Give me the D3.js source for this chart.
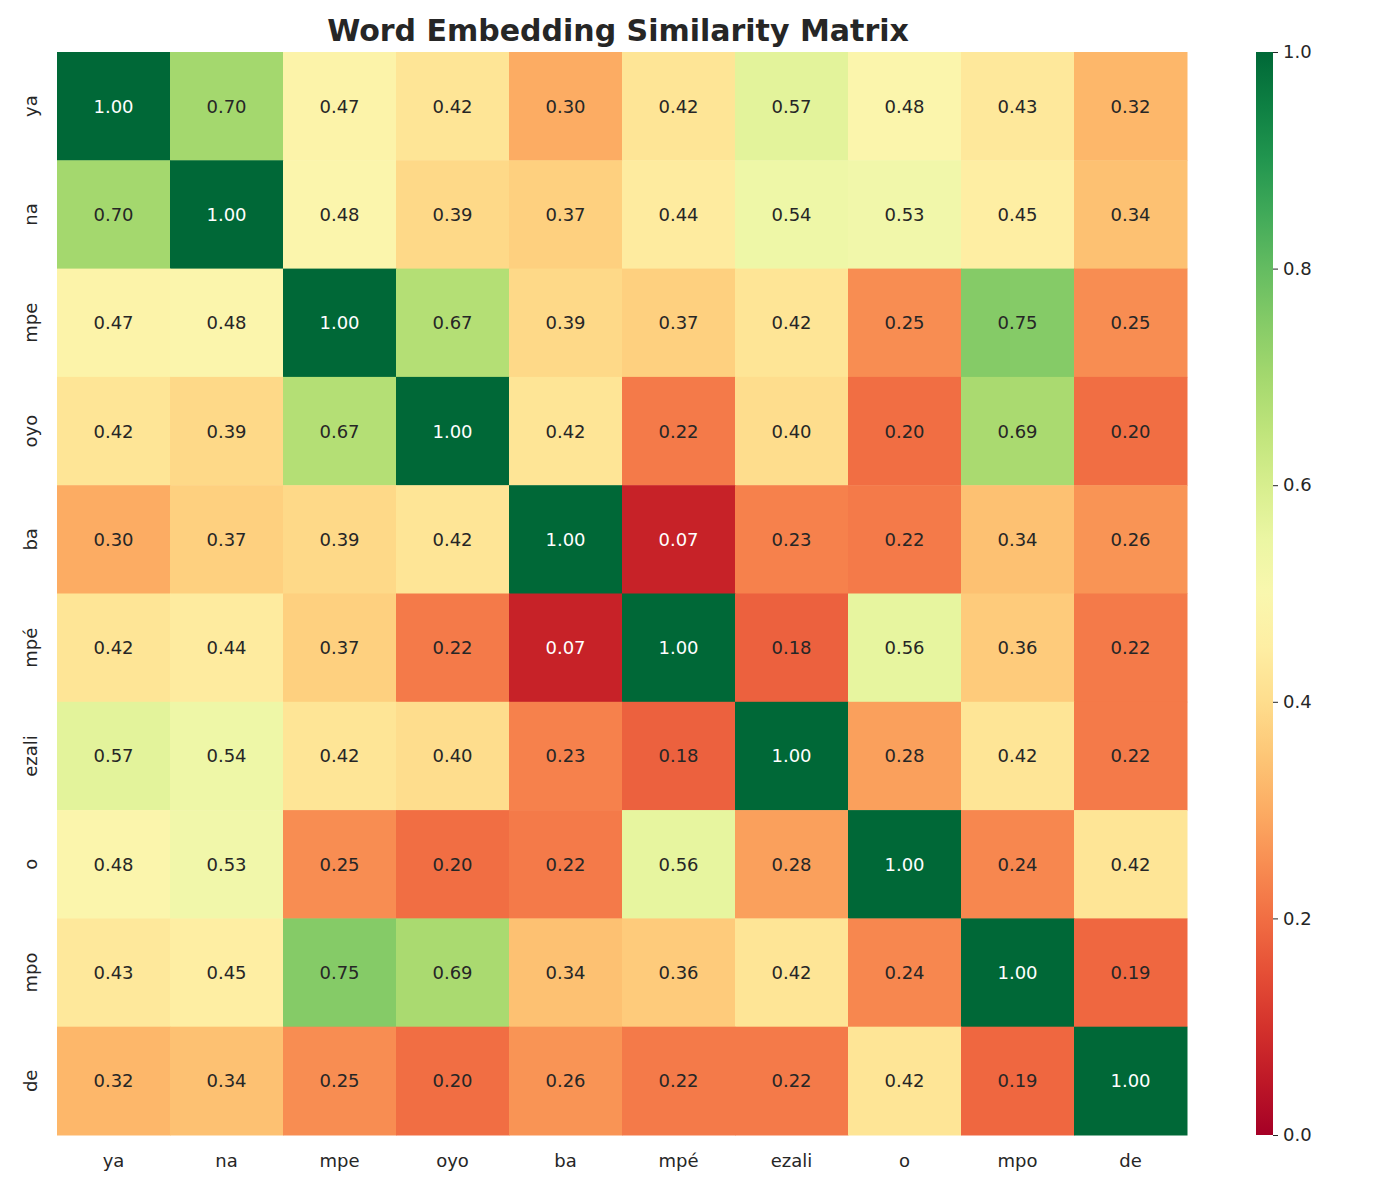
<!DOCTYPE html>
<html><head><meta charset="utf-8">
<script src="https://cdn.jsdelivr.net/npm/d3@7"></script>
<style>body{margin:0;background:#fff;font-family:"DejaVu Sans",sans-serif}</style>
</head><body><svg id="c" width="1373" height="1186"></svg>
<script>
const words = ["ya","na","mpe","oyo","ba","mpé","ezali","o","mpo","de"];
const matrix = [
[1.00,0.70,0.47,0.42,0.30,0.42,0.57,0.48,0.43,0.32],
[0.70,1.00,0.48,0.39,0.37,0.44,0.54,0.53,0.45,0.34],
[0.47,0.48,1.00,0.67,0.39,0.37,0.42,0.25,0.75,0.25],
[0.42,0.39,0.67,1.00,0.42,0.22,0.40,0.20,0.69,0.20],
[0.30,0.37,0.39,0.42,1.00,0.07,0.23,0.22,0.34,0.26],
[0.42,0.44,0.37,0.22,0.07,1.00,0.18,0.56,0.36,0.22],
[0.57,0.54,0.42,0.40,0.23,0.18,1.00,0.28,0.42,0.22],
[0.48,0.53,0.25,0.20,0.22,0.56,0.28,1.00,0.24,0.42],
[0.43,0.45,0.75,0.69,0.34,0.36,0.42,0.24,1.00,0.19],
[0.32,0.34,0.25,0.20,0.26,0.22,0.22,0.42,0.19,1.00]];
const cbTicks = [0,0.2,0.4,0.6,0.8,1.0];
const title = "Word Embedding Similarity Matrix";

const svg = d3.select("#c");
const L=57,R=1187,T=52,B=1135;
const x = d3.scaleBand().domain(words).range([L,R]);
const y = d3.scaleBand().domain(words).range([T,B]);
const color = v => d3.interpolateRdYlGn(v);
const cells=[];
matrix.forEach((row,i)=>row.forEach((v,j)=>cells.push({r:words[i],c:words[j],v})));
svg.selectAll("rect.cell").data(cells).join("rect")
 .attr("x",d=>x(d.c)).attr("y",d=>y(d.r)).attr("width",x.bandwidth()+0.5).attr("height",y.bandwidth()+0.5)
 .attr("fill",d=>color(d.v));
svg.selectAll("text.val").data(cells).join("text")
 .attr("x",d=>x(d.c)+x.bandwidth()/2).attr("y",d=>y(d.r)+y.bandwidth()/2)
 .attr("text-anchor","middle").attr("dominant-baseline","central")
 .attr("font-size",18).attr("fill",d=>(d.v>0.85||d.v<0.12)?"#fff":"#262626")
 .text(d=>d.v.toFixed(2));
// axis labels
svg.selectAll("text.xl").data(words).join("text")
 .attr("x",d=>x(d)+x.bandwidth()/2).attr("y",1167).attr("text-anchor","middle")
 .attr("font-size",18).attr("fill","#262626").text(d=>d);
svg.selectAll("text.yl").data(words).join("text")
 .attr("transform",d=>`translate(37,${y(d)+y.bandwidth()/2}) rotate(-90)`)
 .attr("text-anchor","middle").attr("font-size",18).attr("fill","#262626").text(d=>d);
svg.append("text").attr("x",618).attr("y",41).attr("text-anchor","middle")
 .attr("font-size",30).attr("font-weight","bold").attr("fill","#262626").text(title);
// colorbar
const cx=1256,cw=17;
const cy=d3.scaleLinear().domain([0,1]).range([B,T]);
const defs=svg.append("defs");
const g=defs.append("linearGradient").attr("id","grad").attr("x1",0).attr("y1",1).attr("x2",0).attr("y2",0);
d3.range(0,1.0001,0.05).forEach(t=>g.append("stop").attr("offset",t).attr("stop-color",color(t)));
svg.append("rect").attr("x",cx).attr("y",T).attr("width",cw).attr("height",B-T).attr("fill","url(#grad)");
const ax=svg.append("g").attr("transform",`translate(${cx+cw},0)`)
 .call(d3.axisRight(cy).tickValues(cbTicks).tickFormat(d3.format(".1f")).tickSize(5));
ax.select(".domain").remove();
ax.selectAll("text").attr("font-size",18).attr("fill","#262626").attr("font-family","DejaVu Sans").attr("x",10);
ax.selectAll("line").attr("stroke","#262626");
</script></body></html>
